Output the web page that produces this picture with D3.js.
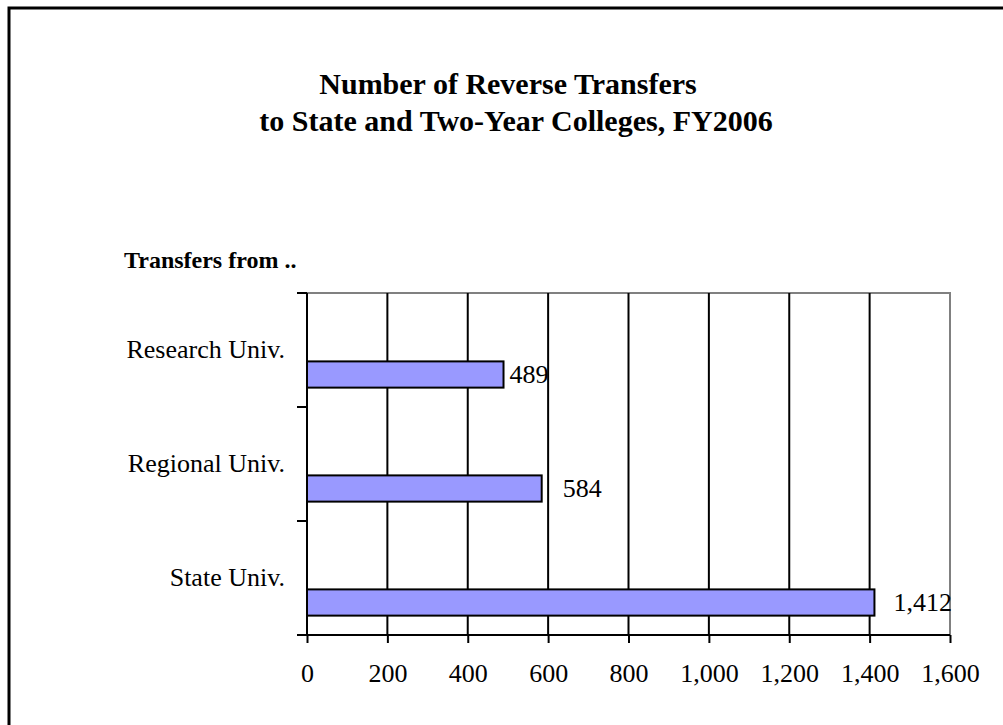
<!DOCTYPE html>
<html>
<head>
<meta charset="utf-8">
<script src="https://cdn.jsdelivr.net/npm/d3@7"></script>
<style>
  body { margin: 0; background: #fff; overflow: hidden; }
  svg { display: block; }
  text { font-family: "Liberation Serif", "Times New Roman", serif; fill: #000; }
</style>
</head>
<body>
<div id="chart-area"></div>
<script>
var outerWidth = 1003;
var outerHeight = 725;
var margin = {left: 307, right: 53, top: 293, bottom: 90};
var innerWidth = outerWidth - margin.left - margin.right;
var innerHeight = outerHeight - margin.top - margin.bottom;

// data
var categories = ['Research Univ.', 'Regional Univ.', 'State Univ.'];
var transfers = [489, 584, 1412];
var xTicks = [0, 200, 400, 600, 800, 1000, 1200, 1400, 1600];
var titleLines = ['Number of Reverse Transfers', 'to State and Two-Year Colleges, FY2006'];

var svg = d3.select('#chart-area').append('svg')
            .attr('width', outerWidth)
            .attr('height', outerHeight);

// outer frame (runs off the right and bottom edge)
svg.append('path')
   .attr('d', 'M9,' + outerHeight + 'V8H' + outerWidth)
   .attr('fill', 'none')
   .attr('stroke', '#000')
   .attr('stroke-width', 3);

// title
svg.selectAll('.title')
   .data(titleLines).enter()
   .append('text')
   .attr('class', 'title')
   .attr('x', function(d, i){ return i === 0 ? 508 : 516; })
   .attr('y', function(d, i){ return 94 + i * 37; })
   .attr('text-anchor', 'middle')
   .attr('font-size', '30px')
   .attr('font-weight', 'bold')
   .text(function(d){ return d; });

svg.append('text')
   .attr('x', 124).attr('y', 268)
   .attr('font-size', '24px')
   .attr('font-weight', 'bold')
   .text('Transfers from ..');

var g = svg.append('g')
           .attr('transform', 'translate(' + margin.left + ',' + margin.top + ')');

var xScale = d3.scaleLinear().domain([0, 1600]).range([0, innerWidth]);
var yScale = d3.scaleBand().domain(categories).range([0, innerHeight]);

// plot frame (top/right gray)
g.append('path')
 .attr('d', 'M0,0H' + innerWidth + 'V' + innerHeight)
 .attr('fill', 'none')
 .attr('stroke', '#808080')
 .attr('stroke-width', 2);

// vertical gridlines
g.selectAll('.grid')
 .data(xTicks.filter(function(d){ return d > 0 && d < 1600; }))
 .enter().append('line')
 .attr('x1', function(d){ return xScale(d); })
 .attr('x2', function(d){ return xScale(d); })
 .attr('y1', 0).attr('y2', innerHeight)
 .attr('stroke', '#000')
 .attr('stroke-width', 2);

// bars
var barTop = yScale.bandwidth() * 0.6;
var barH = yScale.bandwidth() * 0.23;
g.selectAll('.bar')
 .data(transfers)
 .enter().append('rect')
 .attr('x', 0)
 .attr('y', function(d, i){ return yScale(categories[i]) + barTop; })
 .attr('width', function(d){ return xScale(d); })
 .attr('height', barH)
 .attr('fill', '#9999FF')
 .attr('stroke', '#000')
 .attr('stroke-width', 2);

// value labels
var nudge = [6, 21, 19];
g.selectAll('.val')
 .data(transfers)
 .enter().append('text')
 .attr('x', function(d, i){ return xScale(d) + nudge[i]; })
 .attr('y', function(d, i){ return yScale(categories[i]) + barTop + barH / 2; })
 .attr('dy', '0.33em')
 .attr('font-size', '26px')
 .text(function(d){ return d3.format(',')(d); });

// x axis
var xAxis = d3.axisBottom(xScale)
              .tickValues(xTicks)
              .tickSize(8)
              .tickPadding(21)
              .tickFormat(d3.format(','));
var xAxisG = g.append('g')
              .attr('transform', 'translate(0,' + innerHeight + ')')
              .call(xAxis);
xAxisG.select('.domain').attr('stroke', '#000').attr('stroke-width', 2).attr('d', 'M-10,0H' + innerWidth);
xAxisG.selectAll('.tick line').attr('stroke', '#000').attr('stroke-width', 2);
xAxisG.selectAll('.tick text')
      .attr('font-family', '"Liberation Serif", "Times New Roman", serif')
      .attr('font-size', '26px')
      .attr('fill', '#000');

// y axis: ticks between categories
var boundaries = d3.range(categories.length + 1).map(function(i){ return i * yScale.step(); });
g.append('line')
 .attr('x1', 0).attr('x2', 0)
 .attr('y1', 0).attr('y2', innerHeight)
 .attr('stroke', '#000').attr('stroke-width', 2);
g.selectAll('.ytick')
 .data(boundaries)
 .enter().append('line')
 .attr('x1', -10).attr('x2', 0)
 .attr('y1', function(d){ return d; })
 .attr('y2', function(d){ return d; })
 .attr('stroke', '#000').attr('stroke-width', 2);

g.selectAll('.cat')
 .data(categories)
 .enter().append('text')
 .attr('x', -22)
 .attr('y', function(d){ return yScale(d) + yScale.bandwidth() / 2; })
 .attr('dy', '0.32em')
 .attr('text-anchor', 'end')
 .attr('font-size', '26px')
 .text(function(d){ return d; });
</script>
</body>
</html>
